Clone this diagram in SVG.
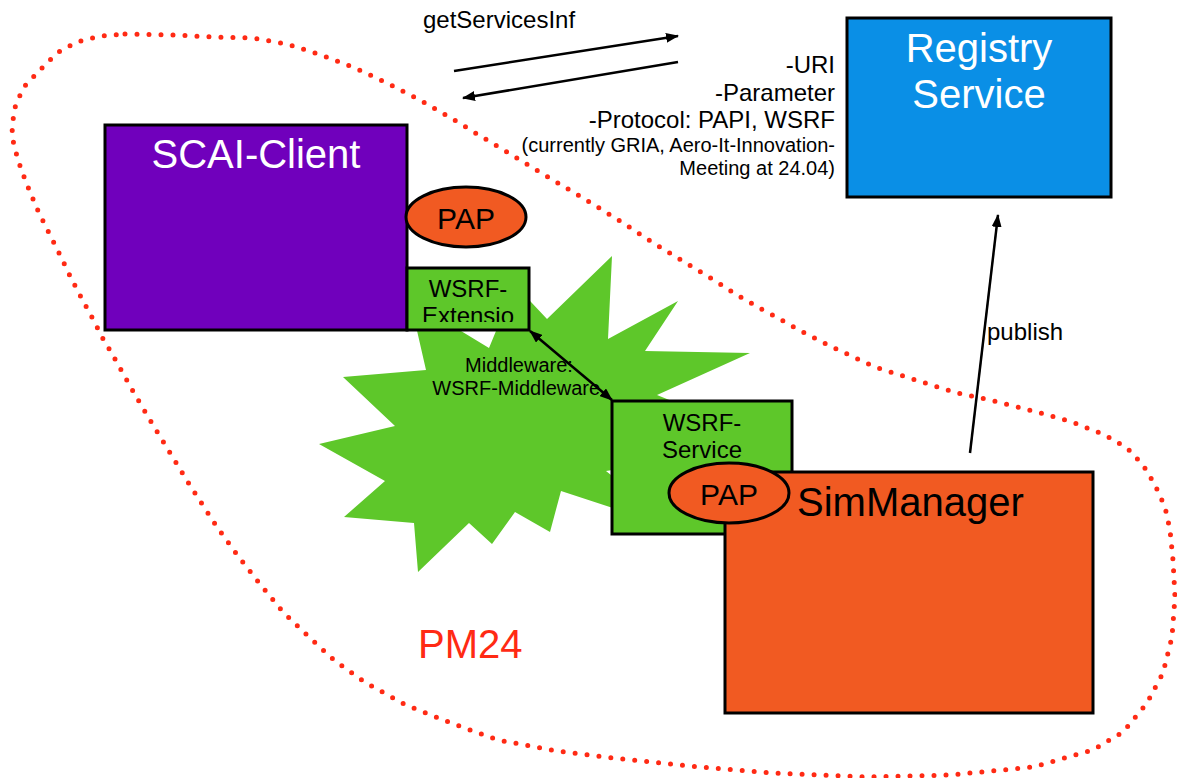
<svg xmlns="http://www.w3.org/2000/svg" width="1177" height="778" viewBox="0 0 1177 778">
<style>
text{font-family:"Liberation Sans",Arial,Helvetica,sans-serif}
.box{stroke:#000;stroke-width:3}
.green{fill:#5EC72A}
.orange{fill:#F15A22}
.t24{font-size:24px;fill:#000}
.t20{font-size:20px;fill:#000}
.big{font-size:40px}
.white{fill:#fff}
.conn{stroke:#000;stroke-width:2.5;fill:none}
.dots{fill:none;stroke:#FF2A14;stroke-width:5;stroke-linecap:round;stroke-linejoin:round;stroke-dasharray:0 12}
</style>
<defs>
<marker id="ah" markerWidth="13" markerHeight="10" refX="12" refY="5" orient="auto-start-reverse" markerUnits="userSpaceOnUse"><path d="M0,0 L13,5 L0,10 z" fill="#000"/></marker>
<clipPath id="extClip"><rect x="408" y="269" width="120" height="53"/></clipPath>
</defs>

<g id="pm24-boundary">
<path class="dots" d="M125,34 L173,35 L214,37 L252,38 L287,44 L321,55 L355,68 L387,83 L420,100 L451,118 L482,137 L512,155 L543,174 L583,198 L620,221 L655,244 L686,263 L717,282 L737,295 L758,307 L778,318 L799,330 L832,347 L875,367 L922,382 L957,393 L990,400 L1037,412 L1072,422 L1105,435 L1127,448 L1143,465 L1155,485 L1165,507 L1170,530 L1173,560 L1175,597 L1172,637 L1163,673 L1147,703 L1123,732 L1093,750 L1033,767 L950,775 L867,777 L772,773 L700,767 L613,758 L557,751 L498,740 L451,723 L406,705 L366,683 L335,661 L309,637 L283,612 L260,584 L238,556 L217,527 L191,487 L172,456 L153,425 L134,393 L111,352 L102,337 L94,321 L82,299 L71,278 L61,257 L50,235 L39,213 L30,192 L21,169 L14,146 L12,133 L14,110 L23,88 L39,71 L57,53 L77,42 L101,36 Z"/>
<text x="418" y="658" class="big" fill="#FF2A14">PM24</text>
</g>

<g id="middleware-cloud">
<polygon class="green" points="612,256 608,339 678,301 645,351 750,353 657,395 780,445 606,471 680,530 561,491 550,532 515,512 492,544 469,523 418,572 414,523 344,517 385,481 319,444 395,426 343,377 426,370 410,300 489,348 515,285 547,319"/>
<text x="519" y="372" class="t20" text-anchor="middle">Middleware:</text>
<text x="519" y="395" class="t20" text-anchor="middle">WSRF-Middleware.</text>
</g>

<g id="scai-client">
<rect class="box" x="105" y="125" width="302" height="205" fill="#7000BC"/>
<text x="256" y="168" class="big white" text-anchor="middle">SCAI-Client</text>
</g>

<g id="pap-client">
<ellipse class="box orange" cx="466" cy="217" rx="60" ry="30"/>
<text x="466" y="229" font-size="30" text-anchor="middle" fill="#000">PAP</text>
</g>

<g id="wsrf-extension">
<rect class="box green" x="407" y="268" width="122" height="62"/>
<g clip-path="url(#extClip)">
<text x="468" y="297" class="t24" text-anchor="middle">WSRF-</text>
<text x="468" y="324" class="t24" text-anchor="middle">Extensio</text>
</g>
</g>

<g id="registry-service">
<rect class="box" x="847" y="18" width="264" height="179" fill="#0A8FE6"/>
<text x="979" y="62" class="big white" text-anchor="middle">Registry</text>
<text x="979" y="108" class="big white" text-anchor="middle">Service</text>
</g>

<g id="wsrf-service">
<rect class="box green" x="612" y="401" width="180" height="133"/>
<text x="702" y="431" class="t24" text-anchor="middle">WSRF-</text>
<text x="702" y="458" class="t24" text-anchor="middle">Service</text>
</g>

<g id="simmanager">
<rect class="box orange" x="725" y="472" width="368" height="241"/>
<text x="797" y="516" class="big" fill="#000">SimManager</text>
</g>

<g id="pap-sim">
<ellipse class="box orange" cx="729" cy="493" rx="60" ry="30"/>
<text x="729" y="505" font-size="30" text-anchor="middle" fill="#000">PAP</text>
</g>

<g id="connectors">
<line class="conn" x1="454" y1="71" x2="678" y2="36" marker-end="url(#ah)"/>
<line class="conn" x1="678" y1="62" x2="463" y2="98" marker-end="url(#ah)"/>
<line class="conn" x1="970" y1="453" x2="998" y2="215" marker-end="url(#ah)"/>
<line class="conn" x1="530" y1="331" x2="612" y2="400" marker-start="url(#ah)" marker-end="url(#ah)"/>
</g>

<g id="labels">
<text x="423" y="28" class="t24">getServicesInf</text>
<text x="835" y="73" class="t24" text-anchor="end">-URI</text>
<text x="835" y="101" class="t24" text-anchor="end">-Parameter</text>
<text x="835" y="128" class="t24" text-anchor="end">-Protocol: PAPI, WSRF</text>
<text x="835" y="152" class="t20" text-anchor="end">(currently GRIA, Aero-It-Innovation-</text>
<text x="835" y="175" class="t20" text-anchor="end">Meeting at 24.04)</text>
<text x="987" y="340" class="t24">publish</text>
</g>
</svg>
